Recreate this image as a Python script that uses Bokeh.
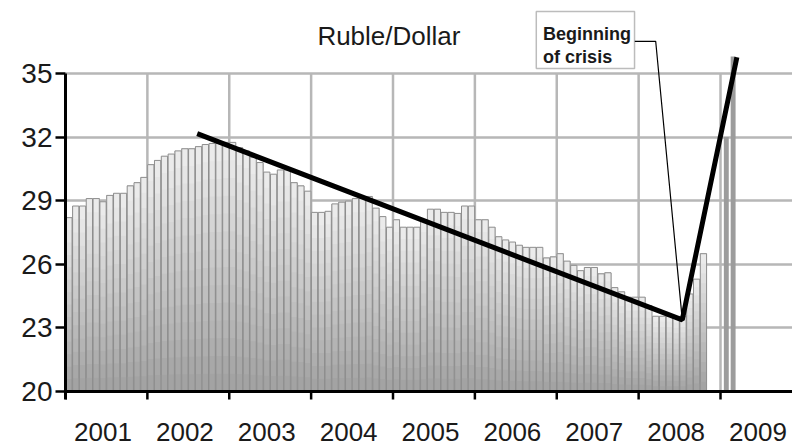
from bokeh.plotting import figure
from bokeh.models import (Range1d, FixedTicker, LinearAxis, Label, LabelSet,
                          ColumnDataSource, Grid, BoxAnnotation, Span)
from bokeh.core.properties import value
from bokeh.embed import file_html
from bokeh.resources import INLINE

# ---------------- data (monthly average RUB per USD) ----
years = ["2001", "2002", "2003", "2004", "2005", "2006", "2007", "2008", "2009"]
rate_2001 = [28.2, 28.75, 28.75, 29.1, 29.1, 28.95, 29.25, 29.35, 29.35, 29.7, 29.85, 30.1]
rate_2002 = [30.7, 30.9, 31.1, 31.2, 31.35, 31.45, 31.45, 31.55, 31.65, 31.7, 31.7, 31.75]
rate_2003 = [31.75, 31.5, 31.35, 31.05, 30.8, 30.35, 30.25, 30.45, 30.45, 29.85, 29.7, 29.45]
rate_2004 = [28.45, 28.45, 28.5, 28.85, 28.93, 28.98, 29.1, 29.1, 29.2, 28.65, 28.25, 27.75]
rate_2005 = [28.1, 27.75, 27.75, 27.75, 28.1, 28.6, 28.6, 28.45, 28.45, 28.4, 28.75, 28.75]
rate_2006 = [28.1, 28.1, 27.75, 27.3, 27.15, 27.05, 26.9, 26.8, 26.8, 26.8, 26.3, 26.35]
rate_2007 = [26.5, 26.15, 25.95, 25.7, 25.85, 25.85, 25.55, 25.6, 24.9, 24.7, 24.45, 24.45]
rate_2008 = [24.45, 24.05, 23.55, 23.55, 23.55, 23.5, 23.55, 24.6, 25.3, 26.5]
rate_2009 = [32.0, 35.8]
y_ticks = [20, 23, 26, 29, 32, 35]

# hand-drawn trend line (month index from Jan 2001, rate)
trend_months = [19.3, 90.4, 98.4]
trend_rates = [32.16, 23.38, 35.77]
# leader line of the "Beginning of crisis" callout
callout_months = [83.4, 86.5, 90.4]
callout_rates = [36.52, 36.52, 23.38]

# ---------------- derived ---------------------------------------------------
rates = rate_2001 + rate_2002 + rate_2003 + rate_2004 + rate_2005 + rate_2006 + rate_2007 + rate_2008
months = [i + 0.5 for i in range(len(rates))]
months_2009 = [12 * 8 + i + 0.85 for i in range(len(rate_2009))]
year_starts = [12 * i for i in range(len(years))]
base = y_ticks[0]

W, H = 792, 446
LEFT = 65
PX_PER_UNIT = 21.2      # vertical pixels per rouble
PX_PER_MONTH = 6.823
AXIS_Y_PX = 391         # pixel row of the x axis (y = 20)
x_end = (W - LEFT) / PX_PER_MONTH
y_start = base - (H - AXIS_Y_PX) / PX_PER_UNIT
y_end = base + AXIS_Y_PX / PX_PER_UNIT
tick_len = 8 / PX_PER_UNIT

# vertical gradient emulated by stacked layers
K = 14
bw = 0.92
lay_l, lay_r, lay_b, lay_t, lay_c = [], [], [], [], []
for k in range(K):
    g = int(round(160 + (238 - 160) * (k + 0.5) / K))
    col = "#%02x%02x%02x" % (g, g, g)
    for m, v in zip(months, rates):
        lay_l.append(m - bw / 2)
        lay_r.append(m + bw / 2)
        lay_b.append(base + (v - base) * k / K)
        lay_t.append(v)
        lay_c.append(col)

p = figure(width=W, height=H,
           x_range=Range1d(0, x_end), y_range=Range1d(y_start, y_end),
           output_backend="svg", toolbar_location=None,
           x_axis_type=None, y_axis_type=None,
           min_border_left=LEFT, min_border_right=0,
           min_border_top=0, min_border_bottom=0)
p.outline_line_color = None
p.background_fill_color = "white"
p.border_fill_color = "white"

GRID = "#b7b7b7"

yaxis = LinearAxis(ticker=FixedTicker(ticks=y_ticks), bounds=(base - tick_len, y_ticks[-1]),
                   axis_line_color="black", axis_line_width=3,
                   major_tick_line_color="black", major_tick_line_width=2.5,
                   major_tick_out=10, major_tick_in=0,
                   minor_tick_line_color=None,
                   major_label_standoff=3,
                   major_label_text_font="Liberation Sans",
                   major_label_text_font_size="28px",
                   major_label_text_color="#1a1a1a")
p.add_layout(yaxis, "left")

# horizontal grid
p.add_layout(Grid(dimension=1, ticker=FixedTicker(ticks=y_ticks[1:]),
                  grid_line_color=GRID, grid_line_width=2.5))

# vertical grid (year boundaries, up to 35)
p.segment(x0=year_starts[1:], y0=[base] * (len(years) - 1),
          x1=year_starts[1:], y1=[y_ticks[-1]] * (len(years) - 1),
          line_color=GRID, line_width=2.5)

# bars
p.quad(left=lay_l, right=lay_r, bottom=lay_b, top=lay_t,
       fill_color=lay_c, line_color=None)
p.vbar(x=months, width=bw, top=rates, bottom=base,
       fill_color=None, line_color="#8e8e8e", line_width=1)
p.vbar(x=months_2009, width=0.72, top=rate_2009, bottom=base,
       fill_color="#9c9c9c", line_color=None)

# x axis line and year ticks
p.add_layout(Span(location=base, dimension="width", line_color="black", line_width=3))
p.segment(x0=year_starts, y0=[base] * len(years), x1=year_starts,
          y1=[base - tick_len] * len(years), line_color="black", line_width=2.5)

# trend line and leader line
p.line(trend_months, trend_rates, line_color="black", line_width=5)
p.line(callout_months, callout_rates, line_color="black", line_width=1.2)

# callout box
p.add_layout(BoxAnnotation(left=69.0, right=83.4, bottom=35.24, top=37.92,
                           fill_color="white", fill_alpha=1.0,
                           line_color="#222222", line_width=1.5))
for txt, yy in (("Beginning", 36.84), ("of crisis", 35.77)):
    p.add_layout(Label(x=70.0, y=yy, text=txt, text_align="left",
                       text_baseline="alphabetic",
                       text_font="Liberation Sans", text_font_style="bold",
                       text_font_size="18px", text_color="#1a1a1a"))

# title
p.add_layout(Label(x=47.4, y=36.75, text="Ruble/Dollar", text_align="center",
                   text_baseline="middle", text_font="Liberation Sans",
                   text_font_size="26px", text_color="#1a1a1a"))

# year labels
lab_src = ColumnDataSource(dict(x=[s + 5.5 for s in year_starts],
                                y=[18.07] * len(years), text=years))
p.add_layout(LabelSet(x="x", y="y", text="text", source=lab_src,
                      text_align="center", text_baseline="middle",
                      text_font=value("Liberation Sans"),
                      text_font_size=value("26px"),
                      text_color="#1a1a1a"))

open("out.html", "w").write(file_html(p, INLINE))
